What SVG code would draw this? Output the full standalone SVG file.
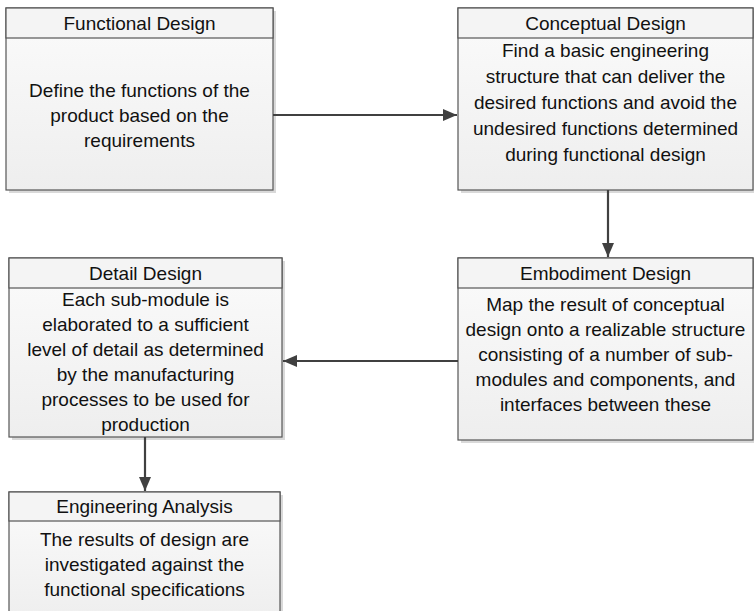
<svg xmlns="http://www.w3.org/2000/svg" width="754" height="611" viewBox="0 0 754 611">
<defs>
<linearGradient id="g" x1="0" y1="0" x2="0" y2="1">
<stop offset="0" stop-color="#fbfbfb"/>
<stop offset="1" stop-color="#eeeeee"/>
</linearGradient>
<marker id="ah" viewBox="0 0 14 12" refX="14" refY="6" markerWidth="14" markerHeight="12" markerUnits="userSpaceOnUse" orient="auto">
<path d="M0,0 L14,6 L0,12 z" fill="#404040"/>
</marker>
</defs>
<style>
.sh{fill:#d9d9d9;stroke:none}
.bx{fill:url(#g);stroke:#555;stroke-width:1.2}
.hd{fill:#f4f4f4;stroke:#555;stroke-width:1.2}
text{font-family:"Liberation Sans",Arial,sans-serif;font-size:19px;fill:#111;text-anchor:middle}
.cn{stroke:#404040;stroke-width:2.2;fill:none;marker-end:url(#ah)}
</style>
<g id="functional">
<rect class="sh" x="9" y="11" width="267" height="182"/>
<rect class="bx" x="6" y="8" width="267" height="182"/>
<rect class="hd" x="6" y="8" width="267" height="30"/>
<text x="139.5" y="30">Functional Design</text>
<text x="139.5" y="97">Define the functions of the</text>
<text x="139.5" y="122">product based on the</text>
<text x="139.5" y="147">requirements</text>
</g>
<g id="conceptual">
<rect class="sh" x="461" y="11" width="295" height="182"/>
<rect class="bx" x="458" y="8" width="295" height="182"/>
<rect class="hd" x="458" y="8" width="295" height="30"/>
<text x="605.5" y="30">Conceptual Design</text>
<text x="605.5" y="57">Find a basic engineering</text>
<text x="605.5" y="83">structure that can deliver the</text>
<text x="605.5" y="109">desired functions and avoid the</text>
<text x="605.5" y="135">undesired functions determined</text>
<text x="605.5" y="161">during functional design</text>
</g>
<g id="embodiment">
<rect class="sh" x="461" y="261" width="295" height="182"/>
<rect class="bx" x="458" y="258" width="295" height="182"/>
<rect class="hd" x="458" y="258" width="295" height="30"/>
<text x="605.5" y="280">Embodiment Design</text>
<text x="605.5" y="311">Map the result of conceptual</text>
<text x="605.5" y="336">design onto a realizable structure</text>
<text x="605.5" y="361">consisting of a number of sub-</text>
<text x="605.5" y="386">modules and components, and</text>
<text x="605.5" y="411">interfaces between these</text>
</g>
<g id="detail">
<rect class="sh" x="12" y="261" width="273" height="179"/>
<rect class="bx" x="9" y="258" width="273" height="179"/>
<rect class="hd" x="9" y="258" width="273" height="30"/>
<text x="145.5" y="280">Detail Design</text>
<text x="145.5" y="306">Each sub-module is</text>
<text x="145.5" y="331">elaborated to a sufficient</text>
<text x="145.5" y="356">level of detail as determined</text>
<text x="145.5" y="381">by the manufacturing</text>
<text x="145.5" y="406">processes to be used for</text>
<text x="145.5" y="431">production</text>
</g>
<g id="analysis">
<rect class="sh" x="12" y="495" width="271" height="130"/>
<rect class="bx" x="9" y="492" width="271" height="130"/>
<rect class="hd" x="9" y="492" width="271" height="29"/>
<text x="144.5" y="513">Engineering Analysis</text>
<text x="144.5" y="546">The results of design are</text>
<text x="144.5" y="571">investigated against the</text>
<text x="144.5" y="596">functional specifications</text>
</g>
<g id="connectors">
<line class="cn" x1="273" y1="115" x2="457" y2="115"/>
<line class="cn" x1="608" y1="190" x2="608" y2="257"/>
<line class="cn" x1="458" y1="361" x2="283" y2="361"/>
<line class="cn" x1="145" y1="437" x2="145" y2="491"/>
</g>
</svg>
